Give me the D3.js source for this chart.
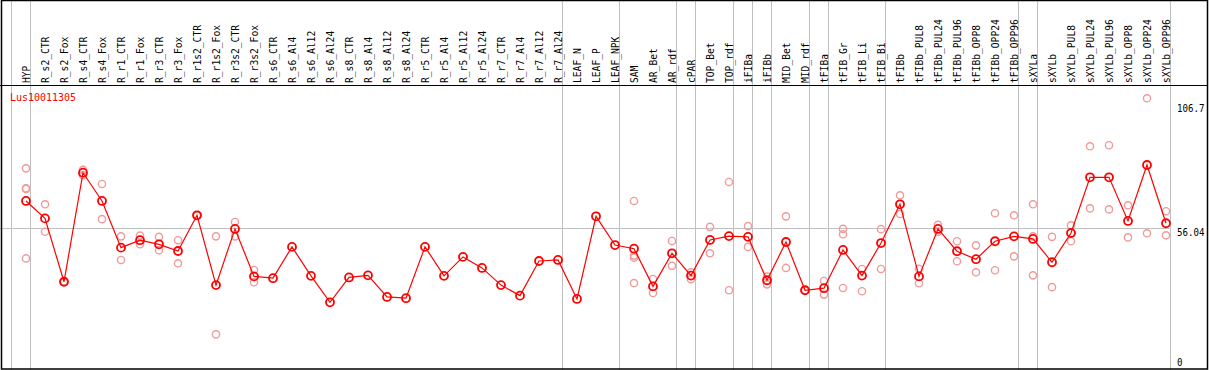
<!DOCTYPE html>
<html>
<head>
<meta charset="utf-8">
<script src="https://cdn.jsdelivr.net/npm/d3@7"></script>
<style>
  html, body { margin: 0; padding: 0; background: #fff; }
  svg { display: block; }
  text { font-family: "DejaVu Sans Mono", "Liberation Mono", monospace; font-size: 11px; }
</style>
</head>
<body>
<svg id="chart" width="1209" height="370"></svg>
<script>
"use strict";

var geneName = "Lus10011305";

var categories = [
  "HYP", "R_s2_CTR", "R_s2_Fox", "R_s4_CTR", "R_s4_Fox", "R_r1_CTR", "R_r1_Fox", "R_r3_CTR", "R_r3_Fox",
  "R_r1s2_CTR", "R_r1s2_Fox", "R_r3s2_CTR", "R_r3s2_Fox", "R_s6_CTR", "R_s6_Al4", "R_s6_Al12", "R_s6_Al24",
  "R_s8_CTR", "R_s8_Al4", "R_s8_Al12", "R_s8_Al24", "R_r5_CTR", "R_r5_Al4", "R_r5_Al12", "R_r5_Al24",
  "R_r7_CTR", "R_r7_Al4", "R_r7_Al12", "R_r7_Al24", "LEAF_N", "LEAF_P", "LEAF_NPK", "SAM", "AR_Bet", "AR_rdf",
  "cPAR", "TOP_Bet", "TOP_rdf", "iFIBa", "iFIBb", "MID_Bet", "MID_rdf", "tFIBa", "tFIB_Gr", "tFIB_Li", "tFIB_Bi",
  "tFIBb", "tFIBb_PUL8", "tFIBb_PUL24", "tFIBb_PUL96", "tFIBb_OPP8", "tFIBb_OPP24", "tFIBb_OPP96",
  "sXYLa", "sXYLb", "sXYLb_PUL8", "sXYLb_PUL24", "sXYLb_PUL96", "sXYLb_OPP8", "sXYLb_OPP24", "sXYLb_OPP96"
];

// sample groups (separated by vertical grey lines)
var groupSizes = [1, 28, 3, 3, 1, 2, 1, 1, 2, 1, 3, 7, 1, 7];

var meanValues = [
  66.7, 59.9, 35.2, 77.7, 66.7, 48.5, 51.4, 49.8, 47.2,
  61.1, 33.9, 55.8, 37.3, 36.6, 48.8, 37.5, 27.2,
  36.9, 37.7, 29.3, 28.8, 48.8, 37.5, 44.9, 40.6,
  33.9, 29.8, 43.3, 43.7, 28.5, 60.7, 49.5, 48.1, 33.4, 46.3,
  37.6, 51.5, 53.0, 52.7, 35.8, 50.7, 31.9, 32.7, 47.6, 37.6, 50.3,
  65.4, 37.3, 55.8, 47.1, 44.0, 51.0, 52.9,
  51.9, 42.8, 54.2, 75.9, 75.9, 58.9, 80.7, 58.0
];

// replicate measurements (null = no replicate)
var rep1 = [
  79.4, 65.4, 35.2, 78.8, 73.3, 52.9, 53.2, 52.7, 51.4,
  61.1, 52.9, 58.5, 39.8, null, null, null, null,
  null, null, null, null, null, null, null, null,
  null, null, null, null, null, null, null, 66.7, 36.3, 51.1,
  38.9, 56.6, 74.1, 56.9, 37.2, 60.7, 31.9, 35.5, 55.8, 40.2, 55.7,
  68.9, 40.3, 57.4, 51.0, 49.4, 61.9, 61.1,
  65.4, 52.7, 57.2, 88.0, 88.4, 65.0, 106.7, 62.7
];
var rep2 = [
  71.6, 54.7, 35.2, 76.7, 59.6, 43.7, 49.8, 47.5, 42.4,
  61.1, 14.7, 52.9, 35.0, null, null, null, null,
  null, null, null, null, null, null, null, null,
  null, null, null, null, null, null, null, 45.4, 30.8, 41.4,
  36.2, 46.3, 31.9, 48.8, 34.2, 40.6, 31.9, 30.2, 53.7, 31.5, 40.2,
  61.6, 34.6, 54.7, 43.2, 38.9, 39.7, 45.1,
  52.9, 33.1, 51.0, 63.8, 63.4, 52.5, 54.1, 53.3
];
var rep3 = [
  71.4, null, null, null, null, null, null, null, null,
  null, null, null, null, null, null, null, null,
  null, null, null, null, null, null, null, null,
  null, null, null, null, null, null, null, 44.6, null, null,
  null, null, null, null, null, null, null, null, 32.8, null, null,
  null, null, null, null, null, null, null,
  37.7, null, null, null, null, null, null, null
];
var rep4 = [
  44.3, null, null, null, null, null, null, null, null,
  null, null, null, null, null, null, null, null,
  null, null, null, null, null, null, null, null,
  null, null, null, null, null, null, null, 34.7, null, null,
  null, null, null, null, null, null, null, null, null, null, null,
  null, null, null, null, null, null, null,
  null, null, null, null, null, null, null, null
];

var yTicks = [0, 56.04, 106.7];
var yMax = 106.7;

var width = 1209, height = 370;
var headerBottom = 85.5;
var CHAR_W = 5.8;

var svg = d3.select("#chart");

var x = d3.scaleBand().domain(categories).range([11.5, 11.5 + 19 * categories.length]);
var y = d3.scaleLinear().domain([0, yMax]).range([372.1, 98.3]);
var px = function (c) { return x(c) + 14.5; };

var gridColor = "#c0c0c0";

// vertical group separators
var boundaries = [];
var start = 0;
groupSizes.forEach(function (n) {
  boundaries.push(x(categories[start]));
  start += n;
});
boundaries.push(x.range()[1]);

svg.append("g").attr("class", "vgrid")
  .selectAll("line")
  .data(boundaries)
  .enter()
  .append("line")
  .attr("x1", function (d) { return Math.round(d) - 0.5; })
  .attr("x2", function (d) { return Math.round(d) - 0.5; })
  .attr("y1", 0)
  .attr("y2", height)
  .attr("stroke", gridColor)
  .attr("stroke-width", 1);

// horizontal reference line at 56.04
svg.append("line")
  .attr("x1", 0)
  .attr("x2", x.range()[1] - 1)
  .attr("y1", Math.round(y(yTicks[1])) + 0.5)
  .attr("y2", Math.round(y(yTicks[1])) + 0.5)
  .attr("stroke", gridColor)
  .attr("stroke-width", 1);

// category labels, rotated
svg.append("g").attr("class", "xlabels")
  .selectAll("text")
  .data(categories)
  .enter()
  .append("text")
  .attr("transform", function (d) { return "translate(" + (px(d) + 4) + "," + 83 + ") rotate(-90)"; })
  .attr("textLength", function (d) { return d.length * CHAR_W; })
  .attr("lengthAdjust", "spacingAndGlyphs")
  .attr("fill", "#000")
  .text(function (d) { return d; });

// frame
svg.append("line")
  .attr("x1", 0).attr("x2", width - 1)
  .attr("y1", headerBottom).attr("y2", headerBottom)
  .attr("stroke", "#000").attr("stroke-width", 1);
svg.append("rect")
  .attr("x", 1.5).attr("y", 0.5)
  .attr("width", 1206).attr("height", 368.5)
  .attr("fill", "none")
  .attr("stroke", "#000")
  .attr("stroke-width", 1.5);

// y tick labels
svg.append("g").attr("class", "ylabels")
  .selectAll("text")
  .data(yTicks)
  .enter()
  .append("text")
  .attr("x", 1177)
  .attr("y", function (d) { return Math.min(Math.max(y(d) + 8, 112), 366); })
  .attr("textLength", function (d) { return String(d).length * 5.5; })
  .attr("lengthAdjust", "spacingAndGlyphs")
  .attr("fill", "#000")
  .text(function (d) { return String(d); });

// gene name
svg.append("text")
  .attr("x", 10)
  .attr("y", 101)
  .attr("fill", "#ff0000")
  .attr("textLength", geneName.length * 6)
  .attr("lengthAdjust", "spacingAndGlyphs")
  .text(geneName);

// replicate dots
var reps = [];
[rep1, rep2, rep3, rep4].forEach(function (arr) {
  arr.forEach(function (v, i) {
    if (v !== null) reps.push({ c: categories[i], v: v });
  });
});

svg.append("g").attr("class", "replicates")
  .selectAll("circle")
  .data(reps)
  .enter()
  .append("circle")
  .attr("cx", function (d) { return px(d.c); })
  .attr("cy", function (d) { return y(d.v); })
  .attr("r", 3.6)
  .attr("fill", "none")
  .attr("stroke", "#f09a9a")
  .attr("stroke-width", 1.4);

// mean line
var lineGen = d3.line()
  .x(function (d, i) { return px(categories[i]); })
  .y(function (d) { return y(d); });

svg.append("path")
  .datum(meanValues)
  .attr("d", lineGen)
  .attr("fill", "none")
  .attr("stroke", "#ff0000")
  .attr("stroke-width", 1.2);

svg.append("g").attr("class", "means")
  .selectAll("circle")
  .data(meanValues)
  .enter()
  .append("circle")
  .attr("cx", function (d, i) { return px(categories[i]); })
  .attr("cy", function (d) { return y(d); })
  .attr("r", 4)
  .attr("fill", "none")
  .attr("stroke", "#ff0000")
  .attr("stroke-width", 1.8);
</script>
</body>
</html>
